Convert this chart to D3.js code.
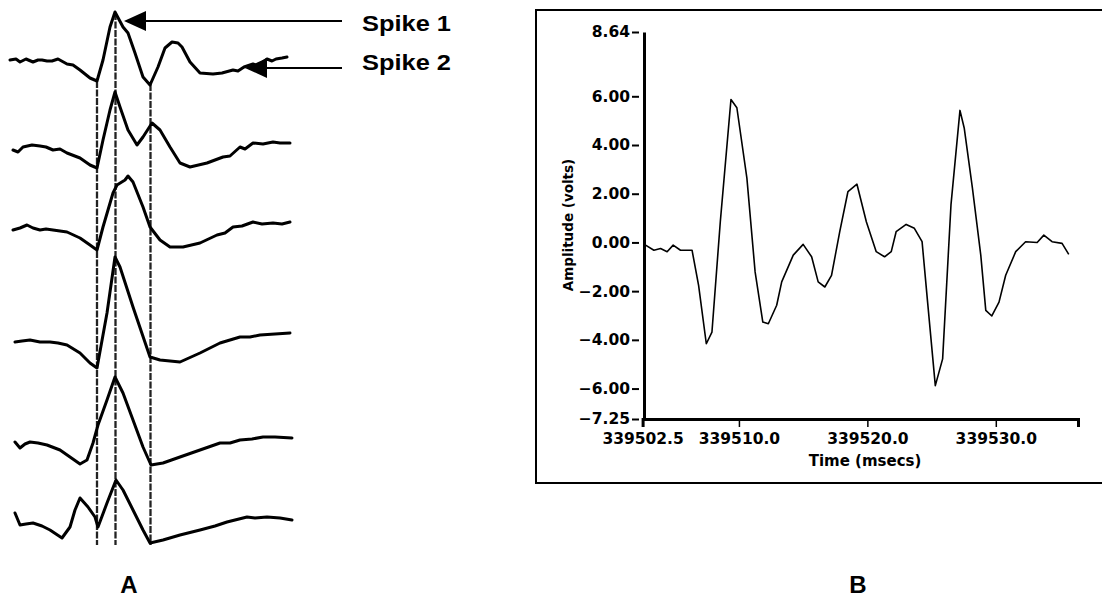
<!DOCTYPE html>
<html><head><meta charset="utf-8">
<script src="https://cdn.jsdelivr.net/npm/d3@7"></script>
<style>body{margin:0;background:#fff} svg{display:block}</style>
</head><body><svg id="c" width="1102" height="602"></svg>
<script>
// ---------- DATA ----------
// Panel A: six superimposed spike traces, [time (ms), amplitude (a.u.)]
const trace1 = [[0,0],[0.6,0.1],[1,-0.2],[1.6,0.1],[2.3,-0.2],[2.8,0],[3.2,0],[3.7,-0.1],[4.2,-0.1],[4.8,0.1],[5.7,-0.4],[6.3,-0.5],[7,-1],[8,-1.8],[8.7,-2.1],[9.3,0],[10,3.3],[10.5,4.8],[11.3,3.3],[11.8,2.7],[12.5,0.7],[13.3,-1.7],[14,-2.5],[14.8,-0.7],[15.5,1.2],[16.2,1.8],[16.8,1.7],[17.2,1.3],[18,-0.2],[19,-1.3],[20.3,-1.4],[21.2,-1.3],[22.3,-1],[22.8,-1.1],[23.4,-0.7],[24.3,-0.4],[24.8,-0.6],[25.7,0.1],[26.2,-0.1],[26.6,0.1],[27.2,0.2],[27.7,0.3]];
const trace2 = [[0.3,0],[0.8,-0.2],[1.3,0.3],[2.2,0.5],[3,0.4],[3.6,0.3],[4.3,0],[5,0.1],[5.7,-0.3],[7,-0.8],[8,-1.5],[8.7,-1.8],[9.3,1],[10,4],[10.5,5.8],[11,4.3],[11.8,2],[12.7,0.5],[13.3,1.3],[14.2,2.7],[15,2],[16,0.3],[17,-1.3],[18,-1.7],[19.7,-1.3],[21.3,-0.7],[22,-0.6],[23,0.3],[23.5,0.1],[24.3,0.7],[25.3,0.6],[26.3,0.8],[27,0.7],[28,0.7]];
const trace3 = [[0.3,0],[1,0.2],[1.7,0.5],[2.3,0.2],[3,0],[3.6,0.1],[4.3,0],[5,-0.1],[5.7,-0.2],[7,-0.8],[8,-1.5],[8.7,-2],[9.3,0.3],[10.3,3.7],[10.7,4.5],[11.5,5],[11.8,5.4],[12.3,4.8],[13.3,2.3],[14,0.3],[15,-1],[16,-1.7],[17.3,-1.7],[19,-1.3],[20.7,-0.5],[21.5,-0.3],[22.3,0.3],[23.2,0.4],[24.3,0.8],[25.2,0.6],[26.3,0.7],[27.2,0.6],[28,0.8]];
const trace4 = [[0.5,0],[1.2,0.1],[2,0.2],[3,0],[4,0],[4.8,-0.1],[5.7,-0.3],[7,-1.1],[8,-2.1],[8.7,-2.6],[9.7,2.9],[10.5,8.5],[11,7.5],[12.3,3.5],[14,-1.5],[15,-1.8],[17,-2],[19,-1.1],[21,-0.1],[22,0.2],[23,0.5],[24,0.5],[25,0.7],[26.5,0.8],[28,0.9]];
const trace5 = [[0.5,0],[1,-0.6],[1.5,-0.2],[2,0],[2.8,-0.1],[3.7,-0.3],[5,-0.8],[6,-1.5],[7,-2.2],[7.7,-1.8],[8.3,-0.1],[8.8,1.7],[9.7,4.2],[10.5,6.5],[11.3,4.9],[12.3,2.2],[13.3,-0.5],[14.1,-2.3],[15.3,-2.1],[17,-1.5],[19,-0.8],[21,-0.1],[22,-0.1],[23,0.2],[24.2,0.3],[25.3,0.5],[26.5,0.5],[28.2,0.4]];
const trace6 = [[0.5,0.7],[1,-0.5],[1.6,-0.4],[2.3,-0.3],[3.2,-0.6],[4,-1],[5.2,-1.8],[6,-0.7],[6.5,1],[7,2.2],[7.8,1.3],[8.5,0.3],[8.8,-0.7],[9.7,1.7],[10.6,4],[11.3,3],[12.3,1],[13.3,-1],[14,-2.3],[15.3,-2],[17,-1.5],[19,-1],[20.5,-0.6],[21.7,-0.2],[23.7,0.3],[24.5,0.2],[25.7,0.3],[27,0.2],[28.2,0]];
const traces = [trace1, trace2, trace3, trace4, trace5, trace6];
const markerTimes = [8.7, 10.55, 14.05];
const spikeLabels = ["Spike 1", "Spike 2"];
const spikeTimes = [10.5, 23.7];
const panelLabels = ["A", "B"];

// Panel B: waveform, time (msecs) and amplitude (volts)
const rightTimes = [339502.73,339503.38,339503.90,339504.41,339504.88,339505.45,339506.35,339506.86,339507.46,339507.90,339508.55,339509.38,339509.84,339510.62,339511.26,339511.86,339512.29,339512.94,339513.33,339514.23,339515.00,339515.66,339516.17,339516.69,339517.21,339517.85,339518.49,339519.19,339519.92,339520.69,339521.34,339521.86,339522.24,339523.02,339523.66,339524.26,339524.69,339525.29,339525.86,339526.51,339527.21,339527.54,339528.18,339528.83,339529.22,339529.69,339530.25,339530.77,339531.55,339532.32,339533.22,339533.74,339534.38,339535.16,339535.68];
const rightVolts = [-0.11,-0.32,-0.25,-0.38,-0.11,-0.32,-0.32,-1.76,-4.16,-3.68,0.85,5.87,5.53,2.64,-1.21,-3.27,-3.34,-2.58,-1.62,-0.52,-0.08,-0.59,-1.62,-1.83,-1.35,0.44,2.09,2.39,0.85,-0.38,-0.59,-0.38,0.44,0.74,0.58,0.03,-2.45,-5.88,-4.78,1.54,5.42,4.70,2.23,-0.52,-2.79,-3.02,-2.45,-1.35,-0.38,0.03,0.0,0.30,0.03,-0.04,-0.49];
const yTicks = [8.64, 6.00, 4.00, 2.00, 0.00, -2.00, -4.00, -6.00, -7.25];
const xTicks = [339502.5, 339510.0, 339520.0, 339530.0];
const xLabel = "Time (msecs)";
const yLabel = "Amplitude (volts)";

// ---------- LAYOUT ----------
const svg = d3.select("#c");
const traceBaselines = [60, 150, 230, 342, 442, 520];
const leftX = d3.scaleLinear().domain([0, 28]).range([10, 290]);
const traceY = traceBaselines.map(b => d3.scaleLinear().domain([0, 1]).range([b, b - 10]));
const interpAt = (tr, t) => {
  for (let i = 1; i < tr.length; i++) {
    if (tr[i][0] >= t) {
      const a = tr[i-1], b = tr[i], f = (t - a[0]) / (b[0] - a[0]);
      return a[1] + f * (b[1] - a[1]);
    }
  }
  return tr[tr.length-1][1];
};

const gA = svg.append("g");
markerTimes.forEach(t => {
  gA.append("line")
    .attr("x1", leftX(t)).attr("x2", leftX(t))
    .attr("y1", traceY[0](interpAt(trace1, t)))
    .attr("y2", traceY[5](-2.5))
    .attr("stroke", "#222").attr("stroke-width", 2.3)
    .attr("stroke-dasharray", "7,1.5");
});
traces.forEach((tr, i) => {
  gA.append("path")
    .attr("d", d3.line().x(d => leftX(d[0])).y(d => traceY[i](d[1]))(tr))
    .attr("fill", "none").attr("stroke", "#000")
    .attr("stroke-width", 3).attr("stroke-linejoin", "round").attr("stroke-linecap", "round");
});
const arrowEnd = 342;
const arrowDefs = [
  {tipX: leftX(spikeTimes[0]) + 9, y: 21, textY: 31},
  {tipX: leftX(spikeTimes[1]) - 2, y: 68, textY: 70}
];
arrowDefs.forEach((a, i) => {
  const headLen = 22, headHalf = 10;
  gA.append("line").attr("x1", a.tipX + headLen - 1).attr("x2", arrowEnd)
    .attr("y1", a.y).attr("y2", a.y).attr("stroke", "#000").attr("stroke-width", 2);
  gA.append("path")
    .attr("d", `M${a.tipX},${a.y}L${a.tipX + headLen},${a.y - headHalf}L${a.tipX + headLen},${a.y + headHalf}Z`)
    .attr("fill", "#000");
  gA.append("text").attr("x", 362).attr("y", a.textY)
    .attr("font-family", "Liberation Sans, Arial, sans-serif").attr("font-weight", "bold")
    .attr("font-size", 22).attr("textLength", 89).attr("lengthAdjust", "spacingAndGlyphs")
    .text(spikeLabels[i]);
});

// ---------- PANEL B ----------
svg.append("path")
  .attr("d", "M1110,10H536V483H1110")
  .attr("fill", "none").attr("stroke", "#000").attr("stroke-width", 2);

const x = d3.scaleLinear().domain([339502.5, 339536.4]).range([642.6, 1078]);
const y = d3.scaleLinear().domain([-7.25, 8.64]).range([419, 32]);
const fontB = "DejaVu Sans, Verdana, sans-serif";

const yAx = svg.append("g").attr("transform", "translate(644,0)")
  .call(d3.axisLeft(y).tickValues(yTicks).tickFormat(d3.format(".2f")).tickSize(0).tickPadding(14));
yAx.select(".domain").attr("stroke-width", 3);
yAx.selectAll(".tick").append("line").attr("x1", -12).attr("x2", -5).attr("stroke", "#000").attr("stroke-width", 2);
yAx.selectAll("text").attr("font-family", fontB).attr("font-weight", "bold").attr("font-size", 15.5).attr("fill", "#000");

const xAx = svg.append("g").attr("transform", "translate(0,419)")
  .call(d3.axisBottom(x).tickValues(xTicks).tickFormat(d3.format(".1f")).tickSize(8).tickPadding(6));
xAx.select(".domain").attr("stroke-width", 3);
xAx.selectAll(".tick line").attr("stroke-width", 1.5).attr("y1", 2);
xAx.selectAll("text").attr("font-family", fontB).attr("font-weight", "bold").attr("font-size", 15.5).attr("fill", "#000");

svg.append("text").attr("x", 865).attr("y", 466).attr("text-anchor", "middle")
  .attr("font-family", fontB).attr("font-weight", "bold").attr("font-size", 15).text(xLabel);
svg.append("text").attr("transform", "translate(573,225) rotate(-90)").attr("text-anchor", "middle")
  .attr("font-family", fontB).attr("font-weight", "bold").attr("font-size", 13.5).text(yLabel);

const pts = rightTimes.map((t, i) => [t, rightVolts[i]]);
svg.append("path")
  .attr("d", d3.line().x(d => x(d[0])).y(d => y(d[1]))(pts))
  .attr("fill", "none").attr("stroke", "#000").attr("stroke-width", 1.6).attr("stroke-linejoin", "round");

[[129, panelLabels[0]], [858, panelLabels[1]]].forEach(([cx, t]) => {
  svg.append("text").attr("x", cx).attr("y", 593).attr("text-anchor", "middle")
    .attr("font-family", "Liberation Sans, Arial, sans-serif").attr("font-weight", "bold")
    .attr("font-size", 24).text(t);
});
</script></body></html>
